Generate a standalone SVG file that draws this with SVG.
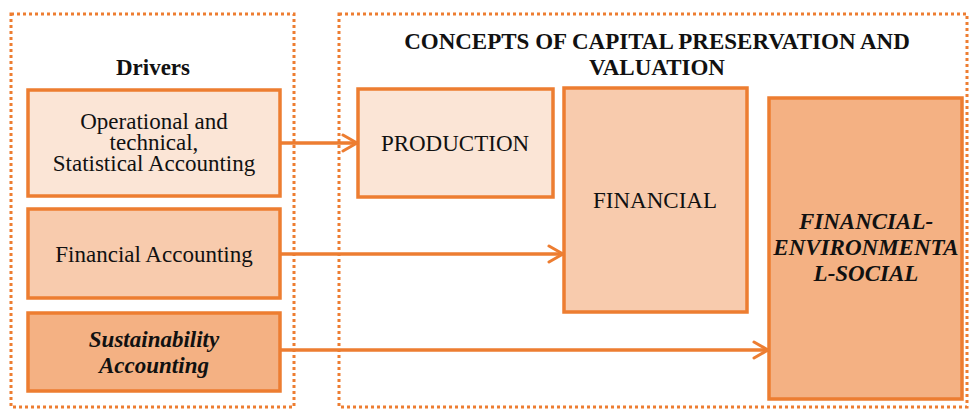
<svg xmlns="http://www.w3.org/2000/svg" width="970" height="409" viewBox="0 0 970 409">
<defs>
<style>
.frame{fill:none;stroke:#ED7D31;stroke-width:3;stroke-dasharray:3 3}
.box{stroke:#ED7D31;stroke-width:3.5}
.l1{fill:#FBE5D6}.l2{fill:#F8CBAD}.l3{fill:#F4B183}
text{font-family:"Liberation Serif","Times New Roman",serif;font-size:23px;fill:#111;text-anchor:middle}
.b{font-weight:bold}.bi{font-weight:bold;font-style:italic}
.conn{stroke:#ED7D31;stroke-width:3.5;fill:none}
</style>
<marker id="arr" viewBox="0 0 18 20" refX="16" refY="10" markerWidth="18" markerHeight="20" markerUnits="userSpaceOnUse" orient="auto">
<path d="M2,2 L16,10 L2,18" fill="none" stroke="#ED7D31" stroke-width="3" stroke-linecap="round" stroke-linejoin="round"/>
</marker>
</defs>
<rect width="970" height="409" fill="#fff"/>
<g id="drivers-frame">
<rect class="frame" x="11" y="14" width="283" height="393"/>
<text class="b" x="153" y="75">Drivers</text>
</g>
<g id="concepts-frame">
<rect class="frame" x="339" y="14" width="628" height="393"/>
<text class="b" x="657" y="49">CONCEPTS OF CAPITAL PRESERVATION AND</text>
<text class="b" x="657" y="75">VALUATION</text>
</g>
<g id="op-tech">
<rect class="box l1" x="28" y="90" width="252" height="106"/>
<text x="154" y="129">Operational and</text>
<text x="154" y="150">technical,</text>
<text x="154" y="171">Statistical Accounting</text>
</g>
<g id="fin-acc">
<rect class="box l2" x="28" y="209" width="252" height="89"/>
<text x="154" y="262">Financial Accounting</text>
</g>
<g id="sust-acc">
<rect class="box l3" x="28" y="313" width="252" height="78"/>
<text class="bi" x="154" y="347">Sustainability</text>
<text class="bi" x="154" y="373">Accounting</text>
</g>
<g id="production">
<rect class="box l1" x="358" y="89" width="195" height="108"/>
<text x="455" y="151">PRODUCTION</text>
</g>
<g id="financial">
<rect class="box l2" x="564" y="88" width="183" height="224"/>
<text x="655" y="208">FINANCIAL</text>
</g>
<g id="fin-env-soc">
<rect class="box l3" x="769" y="98" width="193" height="301"/>
<text class="bi" x="866" y="229">FINANCIAL-</text>
<text class="bi" x="866" y="255">ENVIRONMENTA</text>
<text class="bi" x="866" y="281">L-SOCIAL</text>
</g>
<g id="connectors">
<line class="conn" x1="280" y1="143" x2="357" y2="143" marker-end="url(#arr)"/>
<line class="conn" x1="280" y1="254" x2="563" y2="254" marker-end="url(#arr)"/>
<line class="conn" x1="280" y1="350" x2="768" y2="350" marker-end="url(#arr)"/>
</g>
</svg>
